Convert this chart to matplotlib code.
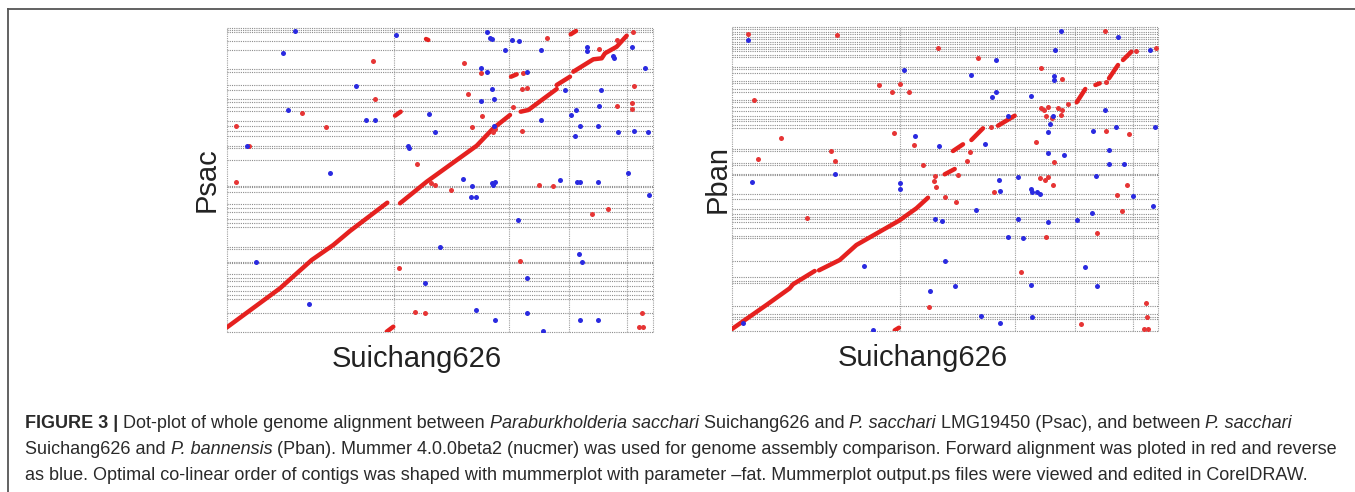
"""
Mummerplot-style dot plots: Suichang626 vs Psac and vs Pban
"""
import numpy as np
import matplotlib
matplotlib.use('Agg')
import matplotlib.pyplot as plt

plt.rcParams['font.family'] = ['Liberation Sans', 'DejaVu Sans']

W, H = 1355, 492
RED = '#e5211f'
BLUE = '#2a2ae0'
GRID = '#8c8c8c'

# positions are in arbitrary genome units
# x: Suichang626 (0..426), y: reference genome (0..304)
XMAX, YMAX = 426, 304

# ---- Psac panel ----
psac_vlines = [167, 282, 342, 400]
psac_hlines = [302, 300, 291, 282, 263.5, 260, 247, 242, 233, 230, 225, 221,
               211, 206, 201, 196, 186, 184, 172, 146.5, 145, 140, 128, 124,
               120, 113.5, 109, 105, 85.3, 83, 70.5, 69, 58, 54.5, 51, 46.5,
               41, 37, 33, 19.5]
psac_fwd_segments = [
    [(0, 4.7), (53, 43.7), (84.7, 72), (106.3, 87), (123, 101), (160.3, 129.3)],
    [(173, 128.7), (199.7, 150.3), (249.7, 186.3), (266.3, 203.7), (283, 217)],
    [(293.7, 220.3), (301.3, 222), (329.7, 243)],
    [(329.7, 247), (343, 255.3)],
    [(346.3, 260.3), (366.3, 272.7), (374.7, 273.7), (378, 278.7),
     (389.7, 285.3), (399.7, 296.3)],
    [(199, 293), (201.3, 292)],
    [(343.7, 297.7), (349, 301)],
    [(284, 255.3), (289.7, 257.7)],
    [(168, 216.3), (173.7, 220.3)],
    [(159.7, 0.3), (166.3, 5.3)],
]
psac_fwd_dots = [
    (146.3, 271), (320.3, 294.3), (390.3, 292), (372.3, 282.7), (405.7, 299.7),
    (237, 268.7), (253.7, 259.3), (295.7, 259.3), (295.3, 243), (299.7, 243.7),
    (407, 246), (241.3, 238), (148, 233), (405.3, 229.3), (390.3, 226),
    (405.3, 223.3), (286.3, 225.3), (75, 219), (254.7, 216.3), (8.7, 205.7),
    (98.7, 205.3), (244.7, 205.3), (295.3, 201), (22, 186), (190.3, 167.7),
    (8.7, 150.3), (204.3, 148.7), (208, 147), (223.7, 142), (312.3, 147),
    (326.3, 146), (381.3, 122.7), (365.3, 118), (171.7, 64.3), (293.3, 71.3),
    (188.3, 20.3), (198, 19.3), (415.3, 19.3), (412.3, 4.7), (416.3, 4.7),
    (266.3, 200.5), (267.5, 203),
]
psac_rev_dots = [
    (68, 301), (55.7, 278.7), (169, 297), (259.7, 300.3), (263, 293.7),
    (264.7, 293), (284.7, 292), (292.3, 291), (278, 282), (313.7, 281.7),
    (360.3, 284.7), (360.3, 281), (386.3, 276.3), (387.3, 274.3), (404.7, 285.3),
    (418, 263.7), (253.7, 264.3), (260.3, 259.7), (299.7, 260.3), (129, 246.3),
    (264.7, 243), (373.7, 242), (338, 242.3), (254, 231), (267, 232.7),
    (372.3, 226), (349, 222), (343.7, 217), (61.3, 222.3), (202.3, 217.7),
    (138.7, 211.7), (148.3, 211.7), (313.7, 211.7), (267, 206.3), (353, 205.7),
    (371.3, 205.7), (208.3, 199.7), (390.7, 199.7), (407, 201), (420.7, 199.7),
    (348, 196), (20, 186), (181.3, 186), (182, 183.7), (103, 159.3),
    (236.3, 152.7), (244.7, 146), (265.3, 148.7), (266.3, 147), (268, 150.3),
    (333, 152), (350.3, 150.3), (353, 150.3), (371.3, 150.3), (401.3, 159.3),
    (244, 135.3), (249, 135.3), (421.7, 137), (291.3, 111.7), (213, 85.3),
    (29.3, 70), (352.3, 77.7), (354.7, 70.3), (197.7, 49), (299.7, 53.7),
    (82.3, 28.3), (248.7, 21.7), (299.7, 19.3), (267.7, 12), (353, 12),
    (371.3, 12), (315.7, 1.3),
]

# ---- Pban panel ----
pban_vlines = [168, 283, 343, 401]
pban_hlines = [301.7, 299, 296.7, 294, 291.7, 289, 286.7, 284, 281.7, 279.7,
               275.7, 274, 264, 261.7, 258.3, 249.7, 248, 241.7, 239, 230.7,
               229, 224, 219.7, 215, 211.7, 209.7, 205.7, 203, 181.7, 179.7,
               168, 166, 157.3, 155.7, 136.7, 132, 121.7, 116.7, 114.3, 112,
               109.3, 102.7, 95, 93.3, 70, 54.3, 50, 47.7, 25.3, 16.7, 14.3, 12]
pban_fwd_segments = [
    [(0, 2), (34.4, 26), (57.7, 42.7), (61, 46.7), (82.7, 60)],
    [(87, 60.7), (107.7, 71), (124.4, 86), (147.7, 99.3), (167, 110.3),
     (184.4, 122.7), (196, 133.3)],
    [(212.7, 156.7), (222.7, 162)],
    [(221, 180), (231, 186.7)],
    [(239.4, 191), (251, 202.7)],
    [(266, 205.3), (282.7, 215.3)],
    [(344.7, 228.7), (353.3, 242)],
    [(363.4, 246), (367.7, 247.7)],
    [(377, 252.7), (386, 266)],
    [(391, 271), (399.4, 279.3)],
    [(162.7, 0.7), (167, 3.3)],
]
pban_fwd_dots = [
    (16, 297), (105.4, 296.3), (373, 300), (206.4, 282.7), (246, 272.7),
    (309, 262.7), (330, 252), (146.7, 246.3), (168.3, 246.7), (160, 238.7),
    (177, 238.7), (22, 230.7), (309, 222.7), (312, 221.3), (315.7, 223.7),
    (325.7, 222.7), (329.7, 221.3), (314.4, 215.3), (320, 212.7), (328.7, 216),
    (335.7, 226.7), (374, 248.7), (404.4, 280.3), (424.4, 283), (162, 198.3),
    (48.7, 192.7), (182.3, 185.7), (99, 180), (102.7, 170.3), (26.3, 172.3),
    (190.7, 166.3), (223.7, 128.7), (261.7, 138.7), (395, 146), (385.4, 136),
    (389.7, 120.3), (365, 98.3), (314, 94), (75, 113.3), (289, 59),
    (197.4, 24), (348.7, 7.3), (414.4, 28), (415.4, 13.7), (412, 2), (416, 2),
    (304.4, 189.3), (321.7, 168.7), (307.7, 152.7), (312.7, 151), (316, 153.7),
    (320.7, 146), (397.4, 196.7), (374, 200), (237.7, 179.3), (235.3, 170.3),
    (259.4, 204.3), (202.7, 154.7), (202, 150), (203.7, 144), (213.4, 134.3),
    (226, 156),
]
pban_rev_dots = [
    (16, 290.7), (329.3, 300), (386, 293.7), (322.7, 281.3), (418.4, 280.7),
    (263.7, 271), (171.7, 261.3), (238.7, 256), (322, 255), (322.4, 250.7),
    (260.4, 234), (264.4, 238.7), (299.4, 235.3), (373, 221.3), (383.7, 204.3),
    (361, 200.3), (423, 204.3), (275.7, 215.3), (321, 215), (317.7, 207),
    (316, 198.7), (182.7, 194.7), (207, 185.3), (253, 187.3), (316, 178),
    (331.7, 176), (377, 181.3), (377, 167.3), (392.4, 167.3), (103, 156.7),
    (20, 149.3), (167.7, 148), (168.3, 142.3), (286, 154.3), (266.7, 150.7),
    (267.7, 139.7), (364.4, 154.7), (299.4, 141.7), (300.4, 139.3), (305, 138.7),
    (307.7, 137), (401, 134.7), (421.4, 124.7), (244.4, 121), (360.4, 118.3),
    (202.7, 111.7), (209.7, 110.3), (286, 112), (316, 108.7), (345, 111),
    (275.7, 94), (291, 93.3), (213.4, 70.3), (131.7, 64.7), (352.7, 64),
    (197.7, 40), (222.7, 44.7), (299.4, 46), (365, 44.7), (248.7, 15.3),
    (268.4, 7.7), (300, 13.7), (141, 0.7), (11, 8.3),
]

CAPTION = [
    [("FIGURE 3 |", 'bold'), (" Dot-plot of whole genome alignment between", ''),
     (" Paraburkholderia sacchari", 'italic'), (" Suichang626 and", ''),
     (" P. sacchari", 'italic'), (" LMG19450 (Psac), and between", ''),
     (" P. sacchari", 'italic')],
    [("Suichang626 and", ''), (" P. bannensis", 'italic'),
     (" (Pban). Mummer 4.0.0beta2 (nucmer) was used for genome assembly "
      "comparison. Forward alignment was ploted in red and reverse", '')],
    [("as blue. Optimal co-linear order of contigs was shaped with mummerplot "
      "with parameter \u2013fat. Mummerplot output.ps files were viewed and "
      "edited in CorelDRAW.", '')],
]


def draw_panel(ax, vlines, hlines, fwd_segments, fwd_dots, rev_dots, ylabel,
               xlab_x, ylab_x):
    ax.set_xlim(0, XMAX)
    ax.set_ylim(0, YMAX)
    for v in [0] + vlines + [XMAX]:
        ax.axvline(v, color='#a0a0a0', lw=0.8, ls=(0, (1, 1)), zorder=1,
                   clip_on=False)
    for h in [0] + hlines + [YMAX]:
        ax.axhline(h, color=GRID, lw=0.8, ls=(0, (1, 1)), zorder=1,
                   clip_on=False)
    for seg in fwd_segments:
        seg = np.array(seg)
        ax.plot(seg[:, 0], seg[:, 1], color=RED, lw=3.2,
                solid_capstyle='round', zorder=3)
    fd = np.array(fwd_dots)
    rd = np.array(rev_dots)
    ax.plot(fd[:, 0], fd[:, 1], 'o', color='#e63535', ms=3.6, mec='none',
            zorder=3)
    ax.plot(rd[:, 0], rd[:, 1], 'o', color=BLUE, ms=3.6, mec='none', zorder=3)
    ax.set_xticks([])
    ax.set_yticks([])
    for s in ax.spines.values():
        s.set_visible(False)
    ax.text(xlab_x, -0.09, 'Suichang626', transform=ax.transAxes,
            ha='center', va='center', fontsize=21, color='#222222')
    ax.text(ylab_x, 0.5, ylabel, transform=ax.transAxes, rotation=90,
            ha='center', va='center', fontsize=21, color='#222222')


fig = plt.figure(figsize=(W / 100, H / 100), dpi=100)

ax1 = fig.add_axes([227 / W, 1 - 332 / H, XMAX / W, YMAX / H])
draw_panel(ax1, psac_vlines, psac_hlines, psac_fwd_segments, psac_fwd_dots,
           psac_rev_dots, 'Psac', 0.445, -0.048)

ax2 = fig.add_axes([732 / W, 1 - 331 / H, XMAX / W, YMAX / H])
draw_panel(ax2, pban_vlines, pban_hlines, pban_fwd_segments, pban_fwd_dots,
           pban_rev_dots, 'Pban', 0.448, -0.034)

# frame around the figure (top and left edges visible)
fig.add_artist(plt.Line2D([8 / W, 1], [1 - 9 / H, 1 - 9 / H],
                          color='#555555', lw=1.3, transform=fig.transFigure))
fig.add_artist(plt.Line2D([8 / W, 8 / W], [0, 1 - 9 / H],
                          color='#555555', lw=1.3, transform=fig.transFigure))

# caption, drawn run by run so bold/italic parts line up
renderer = fig.canvas.get_renderer()
cap_size = 13.0
line_y = [423, 449, 475]
for runs, y in zip(CAPTION, line_y):
    x = 25
    for text, style in runs:
        t = fig.text(x / W, 1 - y / H, text, fontsize=cap_size, va='center',
                     ha='left', color='#2a2a2a',
                     fontweight='bold' if style == 'bold' else 'normal',
                     fontstyle='italic' if style == 'italic' else 'normal')
        x += t.get_window_extent(renderer).width

fig.savefig('out.png', dpi=100)
